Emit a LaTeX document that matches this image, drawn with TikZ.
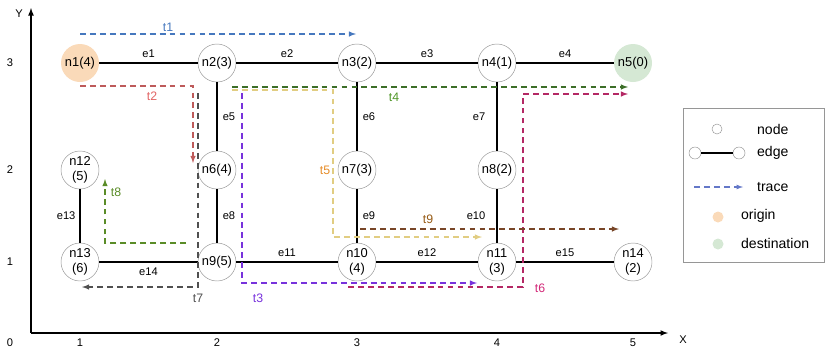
\documentclass[tikz,border=0pt]{standalone}
\usepackage{fontspec}
\setmainfont{Liberation Sans}
\usepackage{tikz}
\usetikzlibrary{arrows,positioning,calc}

\definecolor{rimgray}{RGB}{150,150,150}
\definecolor{origincol}{RGB}{250,218,185}
\definecolor{destcol}{RGB}{213,232,212}
\definecolor{tone}{RGB}{70,120,190}
\definecolor{ttwo}{RGB}{190,90,90}
\definecolor{ttwolab}{RGB}{225,100,100}
\definecolor{tthree}{RGB}{120,50,220}
\definecolor{tfour}{RGB}{60,110,40}
\definecolor{tfourlab}{RGB}{80,150,40}
\definecolor{tfive}{RGB}{225,205,130}
\definecolor{tfivelab}{RGB}{230,140,40}
\definecolor{tsix}{RGB}{180,40,100}
\definecolor{tsixlab}{RGB}{210,40,120}
\definecolor{tseven}{RGB}{80,80,80}
\definecolor{teight}{RGB}{90,140,40}
\definecolor{tnine}{RGB}{120,70,40}
\definecolor{tninelab}{RGB}{150,90,20}
\definecolor{legtrace}{RGB}{100,120,200}

\tikzset{
	vtx/.style={circle,draw=rimgray,fill=white,minimum size=1.14cm,inner sep=0pt,align=center,font=\fontsize{11}{12.5}\selectfont},
	link/.style={line width=1.2pt},
	route/.style={dash pattern=on 5pt off 3.5pt,line width=1.1pt,-latex},
	elabel/.style={font=\fontsize{9.5}{11}\selectfont},
	tlabel/.style={font=\fontsize{10.5}{12}\selectfont},
	axlabel/.style={font=\fontsize{9.5}{11}\selectfont},
	legtext/.style={font=\fontsize{12}{14}\selectfont,anchor=west}
}

\begin{document}
\begin{tikzpicture}[x=0.03cm,y=-0.03cm]
		\useasboundingbox (0,0) rectangle (825,354);
		
		% axes
		\coordinate (o) at (31,333);
		\coordinate (ytop) at (31,8);
		\coordinate (xend) at (668,333);
		\draw[line width=1.2pt,-latex] (o) -- (ytop);
		\draw[line width=1.2pt,-latex] (o) -- (xend);
		\node[axlabel] (ylab) at (19,14) {Y};
		\node[axlabel] (xlab) at (683,340) {X};
		\node[axlabel] (y0) at (10,343) {0};
		\node[axlabel] (y1) at (10,262) {1};
		\node[axlabel] (y2) at (10,170) {2};
		\node[axlabel] (y3) at (10,63) {3};
		\node[axlabel] (x1) at (80,343) {1};
		\node[axlabel] (x2) at (217,343) {2};
		\node[axlabel] (x3) at (357,343) {3};
		\node[axlabel] (x4) at (497,343) {4};
		\node[axlabel] (x5) at (633,343) {5};
		
		% road network
		\node[vtx,fill=origincol,draw=none] (n1) at (80,63) {n1(4)};
		\node[vtx] (n2) at (217,63) {n2(3)};
		\node[vtx] (n3) at (357,63) {n3(2)};
		\node[vtx] (n4) at (497,63) {n4(1)};
		\node[vtx,fill=destcol,draw=none] (n5) at (633,63) {n5(0)};
		\node[vtx] (n6) at (217,170) {n6(4)};
		\node[vtx] (n7) at (357,170) {n7(3)};
		\node[vtx] (n8) at (497,170) {n8(2)};
		\node[vtx] (n9) at (217,262) {n9(5)};
		\node[vtx] (n10) at (357,262) {n10\\(4)};
		\node[vtx] (n11) at (497,262) {n11\\(3)};
		\node[vtx] (n12) at (80,170) {n12\\(5)};
		\node[vtx] (n13) at (80,262) {n13\\(6)};
		\node[vtx] (n14) at (633,262) {n14\\(2)};
		
		\draw[link] (n1) -- node[elabel,above=1pt]{e1} (n2);
		\draw[link] (n2) -- node[elabel,above=1pt]{e2} (n3);
		\draw[link] (n3) -- node[elabel,above=1pt]{e3} (n4);
		\draw[link] (n4) -- node[elabel,above=1pt]{e4} (n5);
		\draw[link] (n2) -- node[elabel,right=1pt]{e5} (n6);
		\draw[link] (n3) -- node[elabel,right=1pt]{e6} (n7);
		\draw[link] (n4) -- node[elabel,left=6pt]{e7} (n8);
		\draw[link] (n6) -- node[elabel,right=1pt]{e8} (n9);
		\draw[link] (n7) -- node[elabel,right=1pt]{e9} (n10);
		\draw[link] (n8) -- node[elabel,left=6pt]{e10} (n11);
		\draw[link] (n9) -- node[elabel,above=1pt]{e11} (n10);
		\draw[link] (n10) -- node[elabel,above=1pt]{e12} (n11);
		\draw[link] (n12) -- node[elabel,left=0pt]{e13} (n13);
		\draw[link] (n13) -- node[elabel,below=1pt]{e14} (n9);
		\draw[link] (n11) -- node[elabel,above=1pt]{e15} (n14);
		
		% traces
		\coordinate (t1a) at (80,34);
		\coordinate (t1b) at (356,34);
		\coordinate (t2a) at (80,86);
		\coordinate (t2b) at (193,163);
		\coordinate (t3a) at (242,93);
		\coordinate (t3b) at (477,283);
		\coordinate (t4a) at (232,87);
		\coordinate (t4b) at (628,87);
		\coordinate (t5a) at (232,90);
		\coordinate (t5b) at (333,237);
		\coordinate (t5c) at (482,237);
		\coordinate (t6a) at (348,287);
		\coordinate (t6b) at (523,94);
		\coordinate (t6c) at (628,94);
		\coordinate (t7a) at (198,93);
		\coordinate (t7b) at (82,287);
		\coordinate (t8a) at (186,243);
		\coordinate (t8b) at (105,179);
		\coordinate (t9a) at (360,229);
		\coordinate (t9b) at (619,229);
		
		\draw[route,tfive] (t5a) -| (t5b) -- (t5c);
		\draw[route,tfour] (t4a) -- (t4b);
		\draw[route,tone] (t1a) -- (t1b);
		\draw[route,ttwo] (t2a) -| (t2b);
		\draw[route,tseven] (t7a) |- (t7b);
		\draw[route,teight] (t8a) -| (t8b);
		\draw[route,tsix] (t6a) -| (t6b) -- (t6c);
		\draw[route,tthree] (t3a) |- (t3b);
		\draw[route,tnine] (t9a) -- (t9b);
		
		\node[tlabel,text=tone] (l1) at (168,27) {t1};
		\node[tlabel,text=ttwolab] (l2) at (152,96) {t2};
		\node[tlabel,text=tthree] (l3) at (258,298) {t3};
		\node[tlabel,text=tfourlab] (l4) at (394,97) {t4};
		\node[tlabel,text=tfivelab] (l5) at (325,170) {t5};
		\node[tlabel,text=tsixlab] (l6) at (540,288) {t6};
		\node[tlabel,text=tseven] (l7) at (198,298) {t7};
		\node[tlabel,text=teight] (l8) at (116,192) {t8};
		\node[tlabel,text=tninelab] (l9) at (428,219) {t9};
		
		% legend
		\draw[rimgray,line width=0.6pt] (683,108) rectangle (824.5,262);
		\node[circle,draw=rimgray,fill=white,minimum size=0.3cm,inner sep=0pt] (kn) at (717,129) {};
		\node[legtext] (knt) at (753,129) {node};
		\node[circle,draw=rimgray,fill=white,minimum size=0.36cm,inner sep=0pt] (ke1) at (695,153) {};
		\node[circle,draw=rimgray,fill=white,minimum size=0.36cm,inner sep=0pt] (ke2) at (739,153) {};
		\draw[line width=1.2pt] (ke1) -- (ke2);
		\node[legtext] (ket) at (753,153) {edge};
		\coordinate (kta) at (694,187);
		\coordinate (ktb) at (743,187);
		\draw[route,legtrace,line width=0.9pt] (kta) -- (ktb);
		\node[legtext] (ktt) at (753,187) {trace};
		\node[circle,fill=origincol,minimum size=0.33cm,inner sep=0pt] (ko) at (718,217) {};
		\node[legtext] (kot) at (737,216) {origin};
		\node[circle,fill=destcol,minimum size=0.33cm,inner sep=0pt] (kd) at (718,244) {};
		\node[legtext] (kdt) at (737,243) {destination};
		
\end{tikzpicture}
\end{document}
